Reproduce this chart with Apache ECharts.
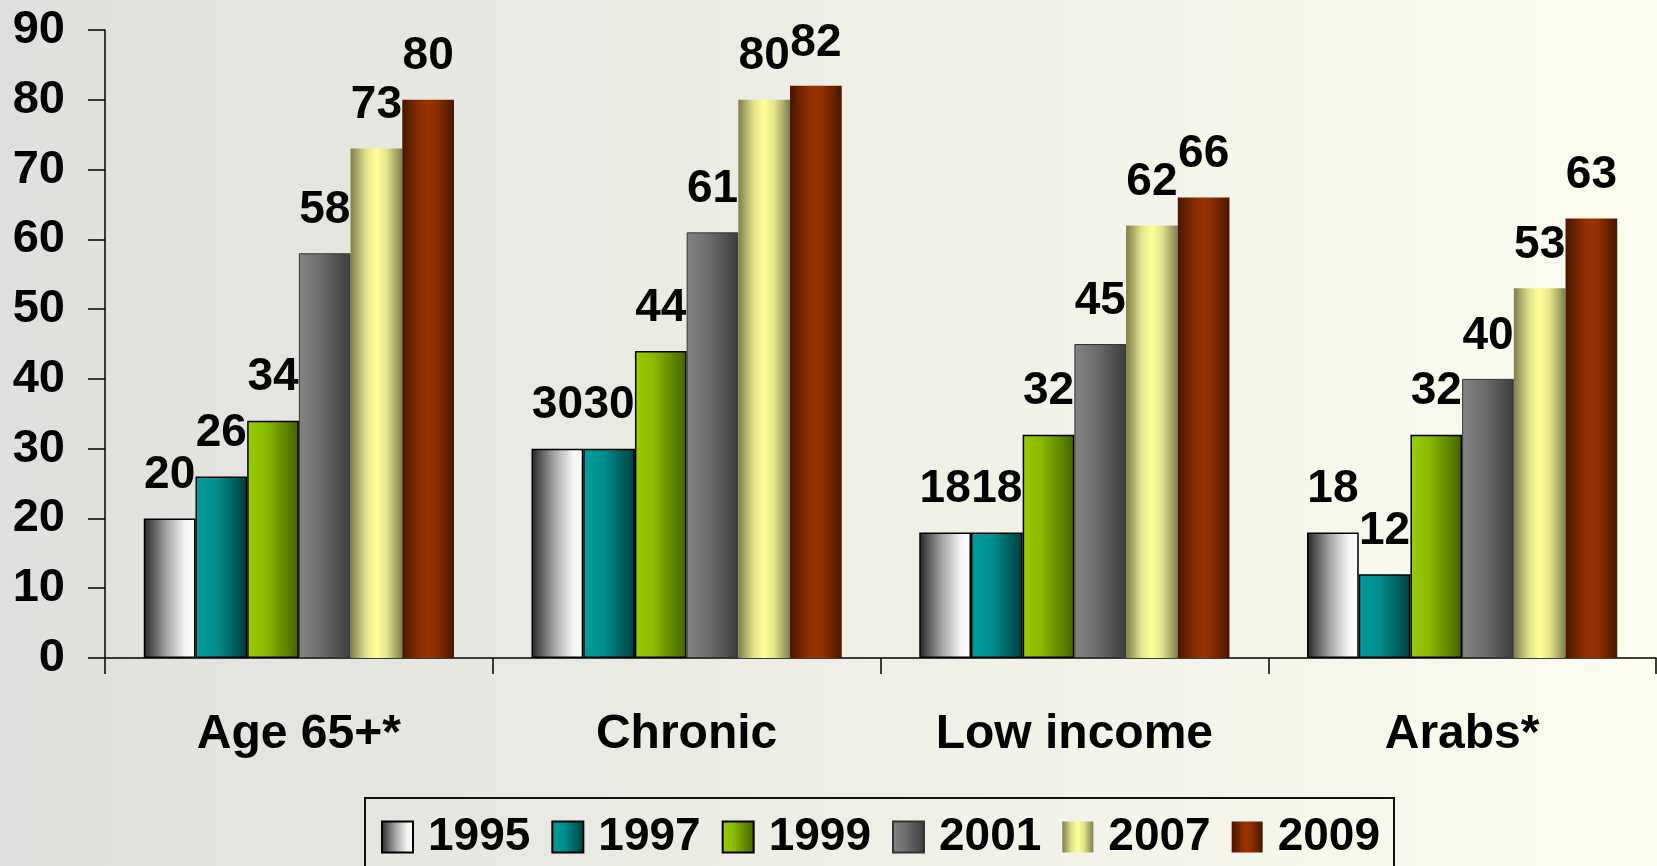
<!DOCTYPE html>
<html>
<head>
<meta charset="utf-8">
<script src="https://cdn.jsdelivr.net/npm/echarts@6/dist/echarts.min.js"></script>
<style>
  html, body { margin: 0; padding: 0; }
  #chart { width: 1657px; height: 866px; }
</style>
</head>
<body>
<div id="chart"></div>
<script>
// Groups along the x axis
const categories = ['Age 65+*', 'Chronic', 'Low income', 'Arabs*'];
// Survey years (one series each)
const years = ['1995', '1997', '1999', '2001', '2007', '2009'];
// Values per year, in category order
const v1995 = [20, 30, 18, 18];
const v1997 = [26, 30, 18, 12];
const v1999 = [34, 44, 32, 32];
const v2001 = [58, 61, 45, 40];
const v2007 = [73, 80, 62, 53];
const v2009 = [80, 82, 66, 63];
const yTicks = [0, 10, 20, 30, 40, 50, 60, 70, 80, 90];

const values = [v1995, v1997, v1999, v2001, v2007, v2009];

const FONT = '"Liberation Sans", Arial, sans-serif';

function hGrad(stops) {
  return new echarts.graphic.LinearGradient(0, 0, 1, 0,
    stops.map(s => ({ offset: s[0], color: s[1] })));
}

// Shaded fills for each year
const fills = [
  hGrad([[0, '#262626'], [0.45, '#a8a8a8'], [0.8, '#f4f4f4'], [1, '#ffffff']]),
  hGrad([[0, '#009c9c'], [0.4, '#008e8e'], [1, '#003e3e']]),
  hGrad([[0, '#9acc00'], [0.35, '#8abb00'], [1, '#446200']]),
  hGrad([[0, '#848484'], [0.4, '#6e6e6e'], [1, '#3c3c3c']]),
  hGrad([[0, '#7e7e4c'], [0.3, '#e2e28a'], [0.5, '#ffff99'], [0.7, '#e2e28a'], [1, '#7e7e4c']]),
  hGrad([[0, '#481700'], [0.35, '#8c2e00'], [0.5, '#993300'], [0.65, '#8c2e00'], [1, '#481700']])
];
const borders = [
  { borderColor: '#000', borderWidth: 1.5 },
  { borderColor: '#000', borderWidth: 1.5 },
  { borderColor: '#000', borderWidth: 1.5 },
  { borderColor: '#333', borderWidth: 1 },
  { borderWidth: 0 },
  { borderWidth: 0 }
];

const series = years.map((y, i) => ({
  name: y,
  type: 'bar',
  data: values[i],
  barGap: '0%',
  barCategoryGap: '20%',
  itemStyle: Object.assign({ color: fills[i] }, borders[i]),
  label: {
    show: true,
    position: 'top',
    distance: 20,
    color: '#000',
    fontFamily: FONT,
    fontWeight: 'bold',
    fontSize: 46
  }
}));

const chart = echarts.init(document.getElementById('chart'), null, { renderer: 'canvas' });
chart.setOption({
  animation: false,
  backgroundColor: new echarts.graphic.LinearGradient(0, 0, 1, 0, [
    { offset: 0, color: '#dfdfdd' },
    { offset: 0.5, color: '#eeeee6' },
    { offset: 1, color: '#fcfcef' }
  ]),
  grid: { left: 105, right: 1, top: 30, bottom: 208 },
  legend: {
    data: years,
    icon: 'rect',
    left: 365,
    top: 798,
    padding: [16, 14, 30, 16],
    borderColor: '#111',
    borderWidth: 2,
    itemWidth: 31,
    itemHeight: 31,
    itemGap: 21,
    textStyle: {
      color: '#000',
      fontFamily: FONT,
      fontWeight: 'bold',
      fontSize: 46,
      padding: [0, 0, 0, 10]
    }
  },
  xAxis: {
    type: 'category',
    data: categories,
    axisLine: { lineStyle: { color: '#000', width: 1.5 } },
    axisTick: { show: true, length: 16, lineStyle: { color: '#000', width: 1.5 } },
    axisLabel: {
      color: '#000',
      fontFamily: FONT,
      fontWeight: 'bold',
      fontSize: 48,
      margin: 53
    }
  },
  yAxis: {
    type: 'value',
    min: yTicks[0],
    max: yTicks[yTicks.length - 1],
    interval: 10,
    splitLine: { show: false },
    axisLine: { show: true, lineStyle: { color: '#000', width: 1.5 } },
    axisTick: { show: true, length: 17, lineStyle: { color: '#000', width: 1.5 } },
    axisLabel: {
      color: '#000',
      fontFamily: FONT,
      fontWeight: 'bold',
      fontSize: 47,
      margin: 40
    }
  },
  series: series
});
</script>
</body>
</html>
